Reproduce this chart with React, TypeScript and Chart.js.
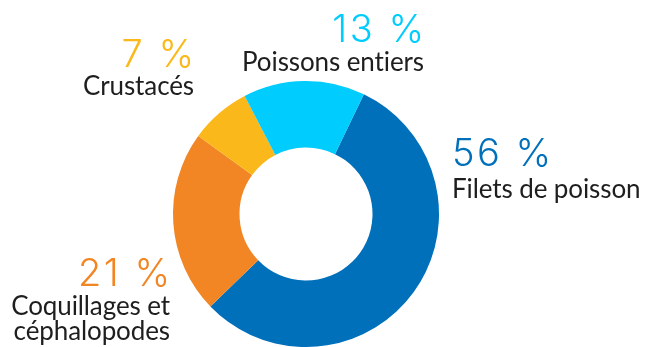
import React, { useEffect, useRef } from "react";
import { Chart, registerables } from "chart.js";

Chart.register(...registerables);

const categories = ["Filets de poisson", "Coquillages et céphalopodes", "Crustacés", "Poissons entiers"];
const sliceValues = [55.6, 22.2, 7.4, 14.8];
const percentLabels = ["56 %", "21 %", "7 %", "13 %"];
const sliceColors = ["#0070BA", "#F28524", "#FBB81A", "#00CCFD"];
const textColor = "#1E1E1E";

type LabelSpec = {
  idx: number;
  x: number;
  yPct: number;
  lines: string[];
  yLines: number[];
  align: CanvasTextAlign;
};

const labelLayout: LabelSpec[] = [
  { idx: 0, x: 452, yPct: 166, lines: ["Filets de poisson"], yLines: [198], align: "left" },
  { idx: 1, x: 170, yPct: 286, lines: ["Coquillages et", "céphalopodes"], yLines: [315, 340], align: "right" },
  { idx: 2, x: 194, yPct: 67, lines: ["Crustacés"], yLines: [95], align: "right" },
  { idx: 3, x: 424, yPct: 42, lines: ["Poissons entiers"], yLines: [71], align: "right" },
];

const PCT_SPACING = 2.5;

const labelPlugin = {
  id: "labelPlugin",
  afterDraw(chart: any) {
    const ctx = chart.ctx as any;
    ctx.save();
    ctx.textBaseline = "alphabetic";
    for (const l of labelLayout) {
      ctx.textAlign = l.align;
      ctx.fillStyle = sliceColors[l.idx];
      ctx.font = "300 38px Inter";
      ctx.letterSpacing = PCT_SPACING + "px";
      ctx.fillText(percentLabels[l.idx], l.x + (l.align === "right" ? PCT_SPACING : 0), l.yPct);
      ctx.fillStyle = textColor;
      ctx.font = "400 26px Lato";
      ctx.letterSpacing = "-0.1px";
      l.lines.forEach((t, i) => ctx.fillText(t, l.x, l.yLines[i]));
    }
    ctx.restore();
  },
};

export default function App() {
  const ref = useRef<HTMLCanvasElement>(null);
  useEffect(() => {
    document.body.style.margin = "0";
    const chart = new Chart(ref.current!, {
      type: "doughnut",
      data: {
        labels: categories,
        datasets: [
          {
            data: sliceValues,
            backgroundColor: sliceColors,
            borderWidth: 0,
            hoverOffset: 0,
          },
        ],
      },
      options: {
        animation: false,
        responsive: false,
        rotation: 25.8,
        cutout: "50%",
        layout: { padding: { left: 173, right: 207, top: 81, bottom: 0 } },
        plugins: { legend: { display: false }, tooltip: { enabled: false } },
      },
      plugins: [labelPlugin],
    });
    return () => chart.destroy();
  }, []);
  return (
    <div style={{ width: 646, height: 347 }}>
      <canvas ref={ref} width={646} height={347} style={{ width: 646, height: 347 }} />
    </div>
  );
}
